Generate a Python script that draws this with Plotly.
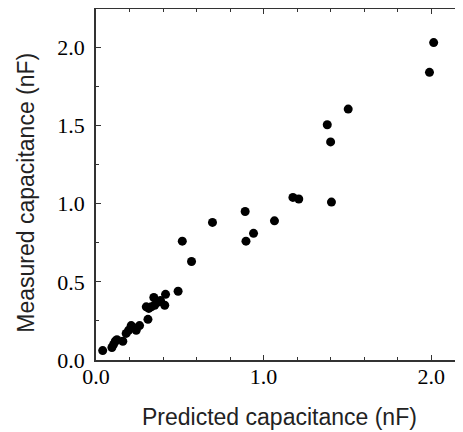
import plotly.graph_objects as go

# Data
predicted = [0.04, 0.095, 0.105, 0.115, 0.125, 0.16, 0.18, 0.195, 0.21, 0.22,
             0.24, 0.26, 0.31, 0.30, 0.315, 0.33, 0.35, 0.345, 0.37, 0.385,
             0.41, 0.415, 0.49, 0.515, 0.57, 0.695, 0.89, 0.895, 0.94, 1.065,
             1.175, 1.21, 1.405, 1.38, 1.40, 1.505, 1.99, 2.015]
measured = [0.06, 0.08, 0.10, 0.12, 0.13, 0.12, 0.17, 0.19, 0.22, 0.21,
            0.19, 0.22, 0.26, 0.34, 0.33, 0.34, 0.35, 0.40, 0.37, 0.38,
            0.35, 0.42, 0.44, 0.76, 0.63, 0.88, 0.95, 0.76, 0.81, 0.89,
            1.04, 1.03, 1.01, 1.505, 1.395, 1.605, 1.84, 2.03]

x_tickvals = [0.0, 1.0, 2.0]
x_ticktext = ["0.0", "1.0", "2.0"]
y_tickvals = [0.0, 0.5, 1.0, 1.5, 2.0]
y_ticktext = ["0.0", "0.5", "1.0", "1.5", "2.0"]

x_title = "Predicted capacitance (nF)"
y_title = "Measured capacitance (nF)"

fig = go.Figure()
fig.add_trace(go.Scatter(
    x=predicted, y=measured, mode="markers",
    marker=dict(color="black", size=9, line=dict(width=0)),
    showlegend=False, hoverinfo="skip",
))
# invisible copy to carry the right-hand tick axis
fig.add_trace(go.Scatter(
    x=predicted, y=measured, mode="markers", xaxis="x", yaxis="y2",
    marker=dict(color="rgba(0,0,0,0)", size=1),
    showlegend=False, hoverinfo="skip",
))

tick_font = dict(family="Liberation Serif, Times New Roman, serif", size=22, color="black")
line_col = "#333333"

# the page body adds an 8px offset, so the figure is sized to end at the window edge
fig.update_layout(
    width=455, height=424,
    margin=dict(l=88, r=0, t=1, b=72),
    paper_bgcolor="white", plot_bgcolor="white",
    xaxis=dict(
        range=[0, 2.19], showgrid=False, zeroline=False,
        showline=True, linecolor=line_col, linewidth=1.5, mirror="ticks",
        ticks="inside", ticklen=5, tickwidth=1, tickcolor=line_col,
        tickvals=x_tickvals, ticktext=x_ticktext, tickfont=tick_font,
        ticklabelstandoff=-4,
        minor=dict(dtick=0.2, tick0=0, ticks="inside", ticklen=3, tickcolor=line_col, showgrid=False),
    ),
    yaxis=dict(
        range=[0, 2.245], showgrid=False, zeroline=False,
        showline=True, linecolor=line_col, linewidth=1.5, mirror=False,
        ticks="inside", ticklen=5, tickwidth=1, tickcolor=line_col,
        tickvals=y_tickvals, ticktext=y_ticktext, tickfont=tick_font,
        ticklabelstandoff=5,
        minor=dict(dtick=0.25, tick0=0, ticks="inside", ticklen=3, tickcolor=line_col, showgrid=False),
    ),
    yaxis2=dict(
        overlaying="y", side="right", anchor="x", range=[0, 2.245],
        showgrid=False, zeroline=False, showline=False, showticklabels=False,
        ticks="inside", ticklen=5, tickwidth=1.5, tickcolor="black",
        tickvals=y_tickvals,
        minor=dict(dtick=0.25, tick0=0, ticks="inside", ticklen=3, tickcolor="black", showgrid=False),
    ),
    annotations=[
        dict(text=x_title, xref="paper", yref="paper", x=0.501, y=-0.162,
             xanchor="center", yanchor="middle", showarrow=False,
             font=dict(family="Liberation Sans", size=23, color="#222222")),
        dict(text=y_title, xref="paper", yref="paper", x=-0.193, y=0.477,
             xanchor="center", yanchor="middle", showarrow=False, textangle=-90,
             font=dict(family="Liberation Sans", size=23, color="#222222")),
    ],
)

fig.write_html("out.html")
